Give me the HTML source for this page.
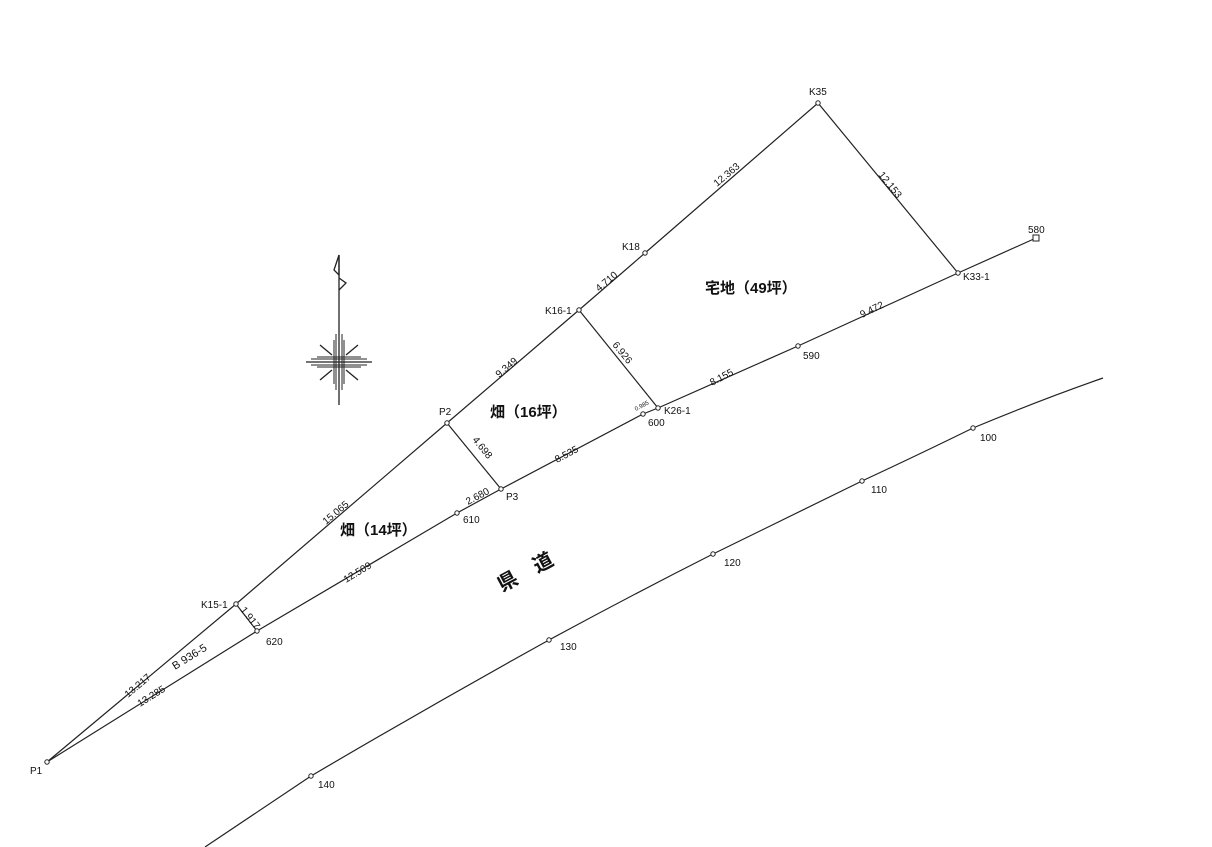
<!DOCTYPE html>
<html><head><meta charset="utf-8"><style>body{margin:0;background:#fff}svg{display:block}text{font-family:"Liberation Sans","Noto Sans CJK JP",sans-serif;fill:#111}</style></head><body>
<svg width="1212" height="847" viewBox="0 0 1212 847" xmlns="http://www.w3.org/2000/svg">
<g stroke="#222" stroke-width="1.2" fill="none">
<polyline points="47,762 236,604 447,423 579,310 645,253 818,103 958,273"/>
<polyline points="47,762 257,631 457,513 501,489 643,414 658,408 798,346 958,273 1036,238"/>
<line x1="236" y1="604" x2="257" y2="631"/>
<line x1="447" y1="423" x2="501" y2="489"/>
<line x1="579" y1="310" x2="658" y2="408"/>
<path d="M205,847 L311,776 Q430,706 549,640 Q630,596 713,554 Q790,516 862,481 Q920,454 973,428 Q1040,400 1103,378"/>
</g>
<g fill="#fff" stroke="#222" stroke-width="1">
<circle cx="47" cy="762" r="2.2"/><circle cx="236" cy="604" r="2.2"/><circle cx="257" cy="631" r="2.2"/>
<circle cx="447" cy="423" r="2.2"/><circle cx="501" cy="489" r="2.2"/><circle cx="457" cy="513" r="2.2"/>
<circle cx="579" cy="310" r="2.2"/><circle cx="645" cy="253" r="2.2"/><circle cx="818" cy="103" r="2.2"/>
<circle cx="958" cy="273" r="2.2"/><circle cx="798" cy="346" r="2.2"/><circle cx="643" cy="414" r="2.2"/>
<circle cx="658" cy="408" r="2.2"/>
<circle cx="311" cy="776" r="2.2"/><circle cx="549" cy="640" r="2.2"/><circle cx="713" cy="554" r="2.2"/>
<circle cx="862" cy="481" r="2.2"/><circle cx="973" cy="428" r="2.2"/>
<rect x="1033" y="235" width="6" height="6"/>
</g>
<!-- compass -->
<g stroke="#222" stroke-width="1.3" fill="none">
<line x1="339" y1="255" x2="339" y2="405"/>
<path d="M339,255 L334,270 L339,275 Z"/>
<path d="M339,278 L346,283 L339,290"/>
<line x1="306" y1="362" x2="372" y2="362"/>
<line x1="320" y1="345" x2="332" y2="355"/><line x1="358" y1="345" x2="346" y2="355"/>
<line x1="320" y1="380" x2="332" y2="370"/><line x1="358" y1="380" x2="346" y2="370"/>
<path d="M334,340 V384 M336,334 V390 M342,334 V390 M344,340 V384 M317,357 H361 M311,359 H367 M311,365 H367 M317,367 H361" stroke-width="1"/>
</g>
<g font-size="10">
<text x="30" y="774">P1</text>
<text x="201" y="608">K15-1</text>
<text x="266" y="645">620</text>
<text x="439" y="415">P2</text>
<text x="506" y="500">P3</text>
<text x="463" y="523">610</text>
<text x="545" y="314">K16-1</text>
<text x="622" y="250">K18</text>
<text x="809" y="95">K35</text>
<text x="963" y="280">K33-1</text>
<text x="1028" y="233">580</text>
<text x="803" y="359">590</text>
<text x="648" y="426">600</text>
<text x="664" y="414">K26-1</text>
<text x="318" y="788">140</text>
<text x="560" y="650">130</text>
<text x="724" y="566">120</text>
<text x="871" y="493">110</text>
<text x="980" y="441">100</text>
<text transform="translate(128,698) rotate(-40)">13.217</text>
<text transform="translate(140,707) rotate(-32)">13.285</text>
<text transform="translate(175,670) rotate(-32)" font-size="11">B 936-5</text>
<text transform="translate(240,610) rotate(52)">1.917</text>
<text transform="translate(326,525) rotate(-40)">15.065</text>
<text transform="translate(346,583) rotate(-31)">12.509</text>
<text transform="translate(468,505) rotate(-28)">2.680</text>
<text transform="translate(472,440) rotate(51)">4.698</text>
<text transform="translate(499,378) rotate(-40)">9.349</text>
<text transform="translate(557,463) rotate(-28)">8.535</text>
<text transform="translate(599,292) rotate(-40)">4.710</text>
<text transform="translate(612,345) rotate(51)">6.926</text>
<text transform="translate(636,411) rotate(-28)" font-size="6">0.985</text>
<text transform="translate(712,386) rotate(-28)">8.155</text>
<text transform="translate(717,187) rotate(-40)">12.363</text>
<text transform="translate(878,175) rotate(51)">12.153</text>
<text transform="translate(862,318) rotate(-26)">9.472</text>
</g>
<g font-size="15" font-weight="bold">
<text x="705" y="293">宅地（49坪）</text>
<text x="490" y="417">畑（16坪）</text>
<text x="340" y="535">畑（14坪）</text>
</g>
<text transform="translate(502,592) rotate(-28)" font-size="20" font-weight="bold">県　道</text>
</svg>
</body></html>
